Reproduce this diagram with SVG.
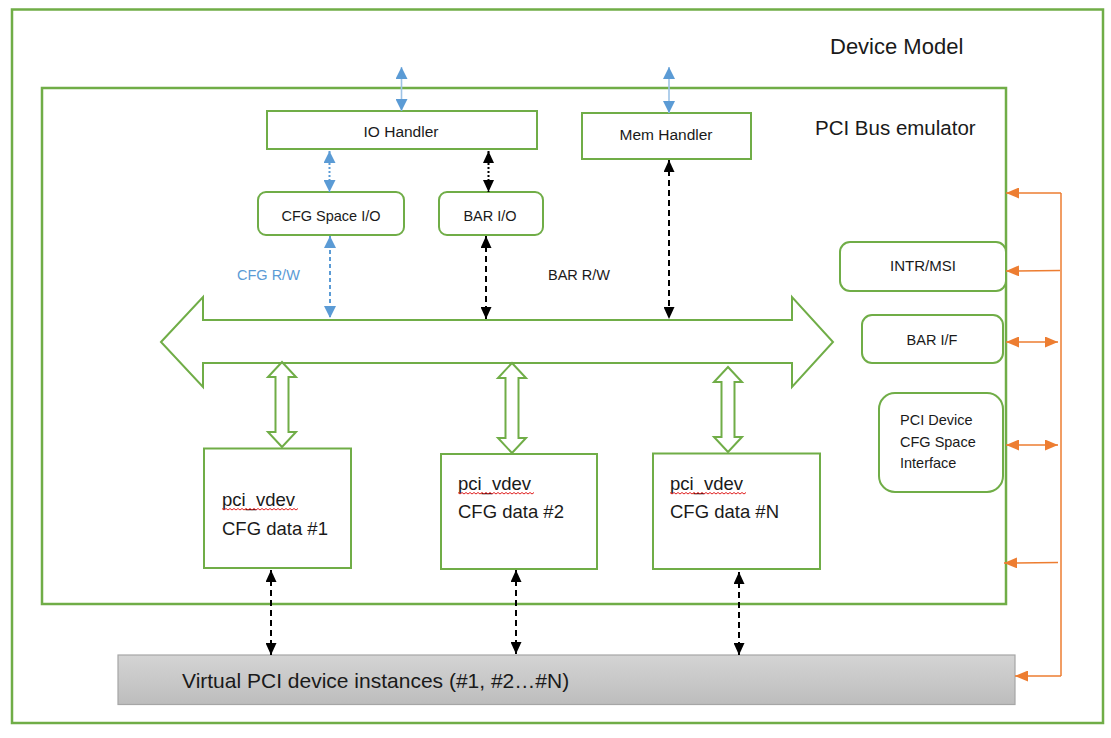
<svg xmlns="http://www.w3.org/2000/svg" width="1111" height="738" viewBox="0 0 1111 738">
<style>
.frame{fill:none;stroke:#70AD47;stroke-width:2.5}
.box{fill:#fff;stroke:#70AD47;stroke-width:2}
.blk{fill:none;stroke:#70AD47;stroke-width:2;stroke-linejoin:miter}
text{font-family:"Liberation Sans",Arial,sans-serif;fill:#1a1a1a}
.t{font-size:14.5px}
.c{text-anchor:middle}
.big{font-size:18.5px}
.sq{fill:none;stroke:#E02020;stroke-width:1}
.bl{fill:none;stroke:#9DC3E6;stroke-width:1.6}
.bd{fill:none;stroke:#5B9BD5;stroke-width:2}
.kd{fill:none;stroke:#000;stroke-width:2}
.or{fill:none;stroke:#ED7D31;stroke-width:1.5}
</style>
<defs>
<linearGradient id="gr" x1="0" y1="0" x2="0" y2="1">
<stop offset="0" stop-color="#D4D4D4"/><stop offset="1" stop-color="#BDBDBD"/>
</linearGradient>
<marker id="mb" viewBox="0 0 12 12" refX="12" refY="6" markerWidth="12" markerHeight="12" markerUnits="userSpaceOnUse" orient="auto-start-reverse"><path d="M0,0 L12,6 L0,12 z" fill="#5B9BD5"/></marker>
<marker id="mk" viewBox="0 0 12 12" refX="12" refY="6" markerWidth="12" markerHeight="11" markerUnits="userSpaceOnUse" orient="auto-start-reverse" preserveAspectRatio="none"><path d="M0,0 L12,6 L0,12 z" fill="#000"/></marker>
<marker id="mo" viewBox="0 0 12 12" refX="12" refY="6" markerWidth="13" markerHeight="11" markerUnits="userSpaceOnUse" orient="auto-start-reverse" preserveAspectRatio="none"><path d="M0,0 L12,6 L0,12 z" fill="#ED7D31"/></marker>
</defs>
<rect width="1111" height="738" fill="#fff"/>

<g id="device-model">
<rect class="frame" x="12" y="9.5" width="1091" height="713.5"/>
<text x="830" y="54" style="font-size:22px">Device Model</text>
</g>

<g id="pci-bus-emulator">
<rect class="frame" x="42" y="88" width="964" height="516"/>
<text x="815" y="135" style="font-size:20.5px">PCI Bus emulator</text>
</g>

<g id="io-handler">
<rect class="box" x="267" y="111" width="270" height="38"/>
<text class="c" x="401" y="137" style="font-size:15.5px">IO Handler</text>
</g>

<g id="mem-handler">
<rect class="box" x="582" y="113" width="169" height="46"/>
<text class="c" x="666" y="140" style="font-size:15.5px">Mem Handler</text>
</g>

<g id="cfg-space-io">
<rect class="box" x="258" y="192" width="146" height="43" rx="8"/>
<text class="t c" x="331" y="221">CFG Space I/O</text>
</g>

<g id="bar-io">
<rect class="box" x="439" y="192" width="104" height="43" rx="8"/>
<text class="t c" x="490" y="221">BAR I/O</text>
</g>

<g id="labels">
<text class="t" x="237" y="280" style="fill:#5B9BD5">CFG R/W</text>
<text class="t" x="548" y="280">BAR R/W</text>
</g>

<g id="bus">
<polygon class="blk" fill="#fff" points="161,342 203,297 203,320 792,320 792,297 833,342 792,387 792,363 203,363 203,387"/>
</g>

<g id="bus-links">
<polygon class="blk" fill="#fff" points="282,362 296,377 288.5,377 288.5,432 296,432 282,447 268,432 275.5,432 275.5,377 268,377"/>
<polygon class="blk" fill="#fff" points="512,363 526,378 518.5,378 518.5,438 526,438 512,453 498,438 505.5,438 505.5,378 498,378"/>
<polygon class="blk" fill="#fff" points="728,367 742,382 734.5,382 734.5,437 742,437 728,452 714,437 721.5,437 721.5,382 714,382"/>
</g>

<g id="intr-msi">
<rect class="box" x="840" y="242" width="166" height="49" rx="10"/>
<text class="c" x="923" y="271" style="font-size:15px">INTR/MSI</text>
</g>

<g id="bar-if">
<rect class="box" x="862" y="315" width="141" height="48" rx="10"/>
<text class="t c" x="932" y="345">BAR I/F</text>
</g>

<g id="pci-device-cfg-space-interface">
<rect class="box" x="879" y="393" width="124" height="99" rx="16"/>
<text class="t" x="900" y="425">PCI Device</text>
<text class="t" x="900" y="447">CFG Space</text>
<text class="t" x="900" y="468">Interface</text>
</g>

<g id="vdev-1">
<rect class="box" x="204" y="448.5" width="147" height="119.5"/>
<text class="big" x="222" y="506">pci_vdev</text>
<path class="sq" d="M222,508.5 l2,1.5 l2,-1.5 l2,1.5 l2,-1.5 l2,1.5 l2,-1.5 l2,1.5 l2,-1.5 l2,1.5 l2,-1.5 l2,1.5 l2,-1.5 l2,1.5 l2,-1.5 l2,1.5 l2,-1.5 l2,1.5 l2,-1.5 l2,1.5 l2,-1.5 l2,1.5 l2,-1.5 l2,1.5 l2,-1.5 l2,1.5 l2,-1.5 l2,1.5 l2,-1.5 l2,1.5 l2,-1.5 l2,1.5 l2,-1.5 l2,1.5 l2,-1.5 l2,1.5 l2,-1.5 l2,1.5 l2,-1.5"/>
<text class="big" x="222" y="535">CFG data #1</text>
</g>

<g id="vdev-2">
<rect class="box" x="441" y="454" width="156" height="115"/>
<text class="big" x="458" y="490">pci_vdev</text>
<path class="sq" d="M458,492.5 l2,1.5 l2,-1.5 l2,1.5 l2,-1.5 l2,1.5 l2,-1.5 l2,1.5 l2,-1.5 l2,1.5 l2,-1.5 l2,1.5 l2,-1.5 l2,1.5 l2,-1.5 l2,1.5 l2,-1.5 l2,1.5 l2,-1.5 l2,1.5 l2,-1.5 l2,1.5 l2,-1.5 l2,1.5 l2,-1.5 l2,1.5 l2,-1.5 l2,1.5 l2,-1.5 l2,1.5 l2,-1.5 l2,1.5 l2,-1.5 l2,1.5 l2,-1.5 l2,1.5 l2,-1.5 l2,1.5 l2,-1.5"/>
<text class="big" x="458" y="518">CFG data #2</text>
</g>

<g id="vdev-n">
<rect class="box" x="653" y="453.5" width="167" height="115.5"/>
<text class="big" x="670" y="490">pci_vdev</text>
<path class="sq" d="M670,492.5 l2,1.5 l2,-1.5 l2,1.5 l2,-1.5 l2,1.5 l2,-1.5 l2,1.5 l2,-1.5 l2,1.5 l2,-1.5 l2,1.5 l2,-1.5 l2,1.5 l2,-1.5 l2,1.5 l2,-1.5 l2,1.5 l2,-1.5 l2,1.5 l2,-1.5 l2,1.5 l2,-1.5 l2,1.5 l2,-1.5 l2,1.5 l2,-1.5 l2,1.5 l2,-1.5 l2,1.5 l2,-1.5 l2,1.5 l2,-1.5 l2,1.5 l2,-1.5 l2,1.5 l2,-1.5 l2,1.5 l2,-1.5"/>
<text class="big" x="670" y="518">CFG data #N</text>
</g>

<g id="virtual-pci-instances">
<rect x="118" y="655" width="897" height="49.5" fill="url(#gr)" stroke="#A6A6A6" stroke-width="1.2"/>
<text x="182" y="688" style="font-size:21px">Virtual PCI device instances (#1, #2…#N)</text>
</g>

<g id="connectors">
<line class="bl" x1="401.5" y1="67" x2="401.5" y2="111" marker-start="url(#mb)" marker-end="url(#mb)"/>
<line class="bl" x1="669" y1="67" x2="669" y2="113" marker-start="url(#mb)" marker-end="url(#mb)"/>
<line class="bd" x1="329.5" y1="151" x2="329.5" y2="192" stroke-dasharray="2,2" marker-start="url(#mb)" marker-end="url(#mb)"/>
<line class="kd" x1="488.5" y1="151" x2="488.5" y2="192" stroke-dasharray="2,2" marker-start="url(#mk)" marker-end="url(#mk)"/>
<line class="bd" x1="330" y1="236" x2="330" y2="318" stroke-dasharray="4,3" marker-start="url(#mb)" marker-end="url(#mb)"/>
<line class="kd" x1="486" y1="236" x2="486" y2="319" stroke-dasharray="6,4" marker-start="url(#mk)" marker-end="url(#mk)"/>
<line class="kd" x1="669" y1="160" x2="669" y2="319" stroke-dasharray="6,4" marker-start="url(#mk)" marker-end="url(#mk)"/>
<line class="kd" x1="271" y1="570" x2="271" y2="655" stroke-dasharray="6,4" marker-start="url(#mk)" marker-end="url(#mk)"/>
<line class="kd" x1="516" y1="570" x2="516" y2="654" stroke-dasharray="6,4" marker-start="url(#mk)" marker-end="url(#mk)"/>
<line class="kd" x1="739" y1="572" x2="739" y2="655" stroke-dasharray="6,4" marker-start="url(#mk)" marker-end="url(#mk)"/>
<path class="or" d="M1061,193 V676"/>
<line class="or" x1="1061" y1="193" x2="1006" y2="193" marker-end="url(#mo)"/>
<line class="or" x1="1060" y1="270.5" x2="1006" y2="271" marker-end="url(#mo)"/>
<line class="or" x1="1006" y1="342" x2="1058" y2="342" marker-start="url(#mo)" marker-end="url(#mo)"/>
<line class="or" x1="1006" y1="445" x2="1058" y2="445" marker-start="url(#mo)" marker-end="url(#mo)"/>
<line class="or" x1="1058" y1="562.5" x2="1004" y2="563" marker-end="url(#mo)"/>
<line class="or" x1="1061" y1="676" x2="1015" y2="676" marker-end="url(#mo)"/>
</g>
</svg>
